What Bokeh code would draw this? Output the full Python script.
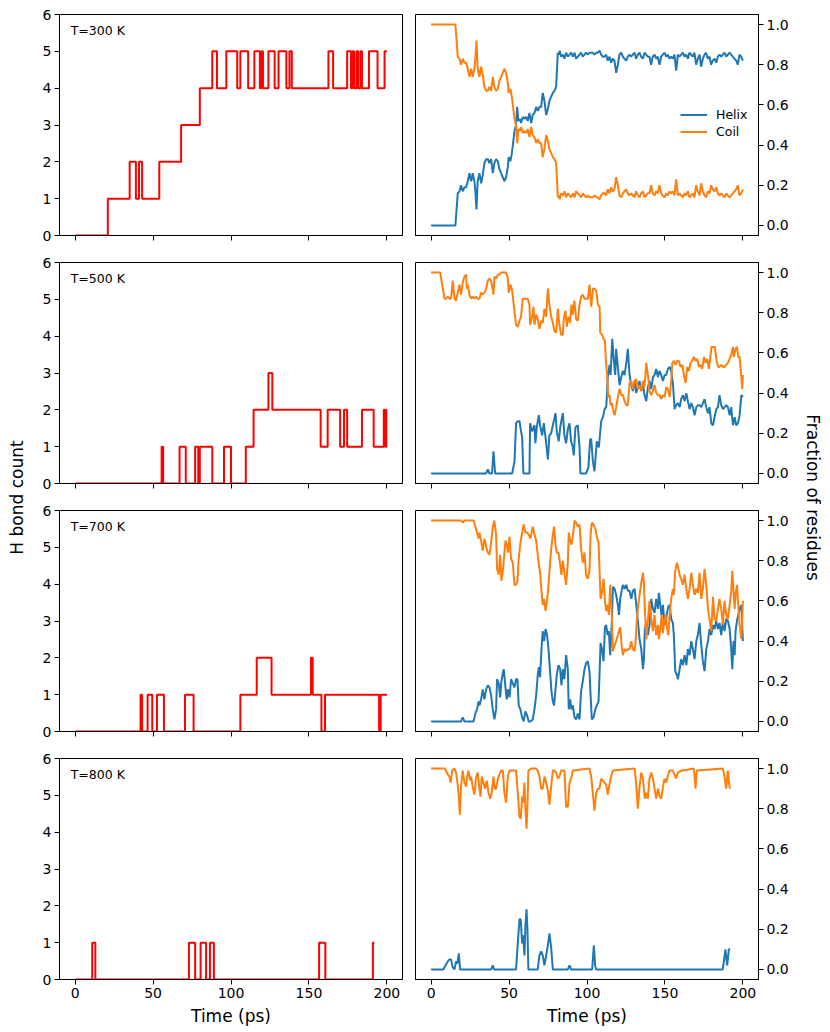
import math
from bokeh.plotting import figure
from bokeh.models import Range1d, FixedTicker, Label, PrintfTickFormatter, Legend
from bokeh.layouts import row, column
from bokeh.embed import file_html
from bokeh.resources import INLINE

FONT = "DejaVu Sans"
RED = "#ff0000"
BLUE = "#1f77b4"
ORANGE = "#ff7f0e"

temps = ["T=300 K", "T=500 K", "T=700 K", "T=800 K"]
x_ticks = [0, 50, 100, 150, 200]
hb_ticks = [0, 1, 2, 3, 4, 5, 6]
frac_ticks = [0.0, 0.2, 0.4, 0.6, 0.8, 1.0]

# ---------------- H bond counts (step data: time of change, new value) ----------------
hb300_t = [0, 21, 35, 39, 41, 43, 54, 68, 80,
           88, 91, 97, 104, 106, 111, 115, 118.5, 119.5, 120.5,
           124, 128, 130.5, 135.5, 137.5, 139, 162.5, 165.5, 174.5, 177,
           178, 179, 180.5, 181.5, 183, 184, 188.5, 194, 198.5, 200]
hb300_v = [0, 1, 2, 1, 2, 1, 2, 3, 4,
           5, 4, 5, 4, 5, 4, 5, 4, 5, 4,
           5, 4, 5, 4, 5, 4, 5, 4, 5, 4,
           5, 4, 5, 4, 5, 4, 5, 4, 5, 5]

hb500_t = [0, 55.5, 56.5, 67, 71, 77, 79, 80, 88, 95.5, 100, 109.5,
           114.5, 124, 126.5, 157.5, 162, 170, 172.5, 174.5, 184, 191.5,
           198, 198.8, 199.2, 199.6, 200]
hb500_v = [0, 1, 0, 1, 0, 1, 0, 1, 0, 1, 0, 1,
           2, 3, 2, 1, 2, 1, 2, 1, 2, 1,
           2, 1, 2, 1, 1]

hb700_t = [0, 42, 43, 46.5, 49.5, 52.5, 57, 70.5, 76, 106, 116.5, 126,
           151.3, 152.4, 158, 160.3, 195, 196, 200]
hb700_v = [0, 1, 0, 1, 0, 1, 0, 1, 0, 1, 2, 1,
           2, 1, 0, 1, 0, 1, 1]

hb800_t = [0, 11, 13, 73, 77, 80.5, 84, 86.5, 89, 156.5, 160.5, 191, 192]
hb800_v = [0, 1, 0, 1, 0, 1, 0, 1, 0, 1, 0, 1, 1]

# ---------------- Fractions of residues ----------------
t300 = [0, 15.6, 17.1, 18.2, 19.2, 20.3, 21.4, 22.5, 23.5, 24.6,
        25.7, 26.7, 27.8, 28.4, 29.1, 29.9, 31.0, 32.1, 33.1, 34.2,
        35.3, 36.4, 37.4, 38.5, 39.6, 40.6, 41.7, 42.8, 43.8, 44.9,
        46.0, 47.0, 48.1, 49.2, 49.8, 50.9, 51.8, 52.6, 53.5, 54.5,
        55.2, 56.0, 56.9, 57.7, 58.8, 59.9, 60.9, 62.0, 63.1, 64.2,
        65.2, 66.3, 67.4, 68.4, 69.5, 70.6, 71.6, 72.7, 73.8, 74.9,
        75.9, 77.0, 78.1, 79.1, 80.2, 81.3, 82.0, 82.5, 83.4, 84.5,
        85.5, 86.6, 87.7, 88.8, 89.8, 90.9, 92.0, 93.0, 94.1, 95.2,
        96.2, 97.3, 98.4, 99.4, 100.5, 101.6, 102.7, 103.7, 104.8, 105.9,
        106.9, 108.0, 109.1, 110.1, 111.2, 112.3, 113.3, 114.4, 115.5, 116.5,
        117.6, 118.7, 119.8, 120.8, 121.9, 123.0, 124.0, 125.1, 126.2, 127.2,
        128.3, 129.4, 130.5, 131.5, 132.6, 133.7, 134.7, 135.8, 136.9, 137.9,
        139.0, 140.1, 141.1, 142.2, 143.3, 144.4, 145.4, 146.5, 147.6, 148.6,
        149.7, 150.8, 151.8, 152.9, 154.0, 155.0, 156.1, 157.2, 158.3, 159.3,
        160.4, 161.5, 162.5, 163.6, 164.7, 165.7, 166.8, 167.9, 168.9, 170.0,
        171.1, 172.2, 173.2, 174.3, 175.4, 176.4, 177.5, 178.6, 179.6, 180.7,
        181.8, 182.9, 183.9, 185.0, 186.1, 187.1, 188.2, 189.3, 190.3, 191.4,
        192.5, 193.5, 194.6, 195.7, 196.7, 197.8, 198.9, 200.0]
helix300 = [0, 0, 0.16, 0.17, 0.20, 0.17, 0.19, 0.19, 0.22, 0.26,
            0.22, 0.26, 0.22, 0.17, 0.08, 0.22, 0.26, 0.21, 0.25, 0.31,
            0.33, 0.33, 0.31, 0.33, 0.26, 0.31, 0.33, 0.32, 0.28, 0.26,
            0.24, 0.22, 0.24, 0.29, 0.34, 0.32, 0.36, 0.41, 0.47, 0.50,
            0.59, 0.52, 0.53, 0.51, 0.54, 0.53, 0.54, 0.52, 0.56, 0.51,
            0.55, 0.56, 0.59, 0.57, 0.59, 0.59, 0.66, 0.62, 0.55, 0.58,
            0.62, 0.64, 0.66, 0.67, 0.69, 0.86, 0.85, 0.87, 0.84, 0.85,
            0.83, 0.86, 0.84, 0.85, 0.86, 0.84, 0.86, 0.83, 0.84, 0.85,
            0.86, 0.84, 0.85, 0.86, 0.85, 0.86, 0.86, 0.86, 0.85, 0.86,
            0.86, 0.87, 0.85, 0.84, 0.84, 0.85, 0.82, 0.84, 0.81, 0.83,
            0.82, 0.76, 0.80, 0.85, 0.86, 0.84, 0.83, 0.82, 0.84, 0.85,
            0.84, 0.85, 0.86, 0.83, 0.85, 0.86, 0.84, 0.83, 0.86, 0.85,
            0.84, 0.84, 0.80, 0.84, 0.85, 0.83, 0.84, 0.80, 0.84, 0.85,
            0.86, 0.84, 0.85, 0.83, 0.84, 0.83, 0.85, 0.77, 0.85, 0.84,
            0.85, 0.86, 0.84, 0.85, 0.83, 0.86, 0.85, 0.84, 0.86, 0.80,
            0.83, 0.85, 0.79, 0.83, 0.85, 0.86, 0.83, 0.84, 0.80, 0.82,
            0.83, 0.81, 0.84, 0.85, 0.84, 0.85, 0.86, 0.84, 0.85, 0.86,
            0.85, 0.84, 0.83, 0.82, 0.80, 0.85, 0.84, 0.82]
coil300 = [1.0, 1.0, 0.84, 0.83, 0.80, 0.83, 0.81, 0.81, 0.78, 0.74,
           0.78, 0.74, 0.78, 0.83, 0.92, 0.78, 0.74, 0.79, 0.75, 0.69,
           0.67, 0.67, 0.69, 0.67, 0.74, 0.69, 0.67, 0.68, 0.72, 0.74,
           0.76, 0.78, 0.76, 0.71, 0.66, 0.68, 0.64, 0.59, 0.53, 0.50,
           0.41, 0.48, 0.47, 0.49, 0.46, 0.47, 0.46, 0.48, 0.44, 0.49,
           0.45, 0.44, 0.41, 0.43, 0.41, 0.41, 0.34, 0.38, 0.45, 0.42,
           0.38, 0.36, 0.34, 0.33, 0.31, 0.14, 0.15, 0.13, 0.16, 0.15,
           0.17, 0.14, 0.16, 0.15, 0.14, 0.16, 0.14, 0.17, 0.16, 0.15,
           0.14, 0.16, 0.15, 0.14, 0.15, 0.14, 0.14, 0.14, 0.15, 0.14,
           0.14, 0.13, 0.15, 0.16, 0.16, 0.15, 0.18, 0.16, 0.19, 0.17,
           0.18, 0.24, 0.20, 0.15, 0.14, 0.16, 0.17, 0.18, 0.16, 0.15,
           0.16, 0.15, 0.14, 0.17, 0.15, 0.14, 0.16, 0.17, 0.14, 0.15,
           0.16, 0.16, 0.20, 0.16, 0.15, 0.17, 0.16, 0.20, 0.16, 0.15,
           0.14, 0.16, 0.15, 0.17, 0.16, 0.17, 0.15, 0.23, 0.15, 0.16,
           0.15, 0.14, 0.16, 0.15, 0.17, 0.14, 0.15, 0.16, 0.14, 0.20,
           0.17, 0.15, 0.21, 0.17, 0.15, 0.14, 0.17, 0.16, 0.20, 0.18,
           0.17, 0.19, 0.16, 0.15, 0.16, 0.15, 0.14, 0.16, 0.15, 0.14,
           0.15, 0.16, 0.17, 0.18, 0.20, 0.15, 0.16, 0.18]

helix500_t = [0, 35.3, 36.4, 37.4, 39.1, 40.0, 41.1, 52.0, 53.5, 54.5,
              55.6, 56.7, 57.7, 58.4, 59.2, 63.1, 63.5, 64.8, 66.3, 66.9,
              67.8, 69.1, 69.9, 71.2, 72.3, 73.4, 74.9, 75.9, 77.0, 78.1,
              79.8, 80.6, 81.9, 82.8, 84.5, 85.5, 86.6, 87.7, 88.8, 89.8,
              90.9, 91.5, 92.6, 94.1, 95.2, 95.8, 99.4, 100.9, 102.0, 102.7,
              103.8, 104.8, 106.3, 107.6, 109.1, 110.2, 111.3, 112.3, 112.8, 113.4,
              114.5, 115.1, 116.2, 117.0, 118.1, 118.7, 119.8, 120.9, 122.0, 123.0,
              124.1, 125.2, 126.2, 127.3, 128.4, 129.4, 130.5, 131.6, 132.6, 133.7,
              134.8, 135.9, 136.9, 138.0, 139.1, 140.1, 141.2, 142.3, 143.3, 144.4,
              145.5, 146.5, 147.6, 148.7, 149.8, 150.8, 151.9, 153.0, 154.0, 155.1,
              156.2, 157.2, 158.3, 159.4, 160.4, 161.5, 162.6, 163.7, 164.7, 165.8,
              166.9, 167.9, 169.0, 170.1, 171.2, 172.2, 173.3, 174.3, 175.4, 176.5,
              177.6, 178.6, 179.7, 180.8, 181.8, 182.9, 184.0, 185.0, 186.1, 187.2,
              188.3, 189.3, 190.4, 191.5, 192.5, 193.6, 194.7, 195.7, 196.8, 197.9,
              199.0, 200.0]
helix500 = [0, 0, 0.02, 0, 0, 0.11, 0, 0, 0.06, 0.25,
            0.26, 0.26, 0.21, 0.18, 0, 0, 0.25, 0.21, 0.24, 0.15,
            0.23, 0.29, 0.24, 0.19, 0.25, 0.18, 0.07, 0.19, 0.20, 0.24,
            0.30, 0.21, 0.16, 0.23, 0.30, 0.19, 0.15, 0.22, 0.25, 0.16,
            0.13, 0.09, 0.23, 0.24, 0.13, 0, 0, 0.03, 0.17, 0.17,
            0.06, 0.01, 0.16, 0.13, 0.26, 0.28, 0.32, 0.33, 0.39, 0.49,
            0.54, 0.49, 0.67, 0.58, 0.49, 0.62, 0.53, 0.44, 0.48, 0.51,
            0.49, 0.55, 0.62, 0.49, 0.44, 0.41, 0.46, 0.40, 0.43, 0.46,
            0.41, 0.44, 0.39, 0.36, 0.43, 0.46, 0.42, 0.48, 0.49, 0.52,
            0.48, 0.51, 0.49, 0.46, 0.49, 0.49, 0.52, 0.53, 0.51, 0.45,
            0.32, 0.34, 0.35, 0.33, 0.37, 0.39, 0.36, 0.40, 0.36, 0.32,
            0.35, 0.33, 0.29, 0.33, 0.34, 0.34, 0.33, 0.35, 0.37, 0.33,
            0.30, 0.33, 0.25, 0.24, 0.28, 0.32, 0.33, 0.39, 0.34, 0.32,
            0.33, 0.34, 0.33, 0.29, 0.33, 0.24, 0.28, 0.24, 0.25, 0.29,
            0.39, 0.38]
coil500_t = [0, 5.8, 7.1, 8.6, 9.6, 10.7, 11.8, 12.8, 13.9, 15.0,
             16.0, 17.1, 18.2, 19.2, 20.3, 21.4, 22.5, 22.9, 23.5, 24.6,
             25.7, 26.7, 27.8, 28.9, 29.9, 31.0, 32.1, 33.1, 34.2, 35.3,
             36.4, 37.4, 38.5, 39.6, 40.0, 40.6, 41.7, 42.8, 43.8, 44.9,
             48.1, 49.2, 49.8, 50.9, 52.0, 53.0, 53.9, 54.5, 55.6, 56.7,
             57.7, 58.8, 59.9, 62.0, 63.1, 63.5, 64.8, 65.7, 66.3, 67.4,
             68.4, 69.5, 70.6, 71.6, 72.7, 73.8, 74.9, 75.9, 77.0, 78.1,
             79.1, 80.2, 81.3, 82.3, 83.4, 84.5, 85.1, 86.2, 87.0, 88.1,
             89.2, 90.0, 90.9, 91.9, 93.0, 94.1, 95.2, 96.2, 97.3, 98.4,
             99.4, 100.6, 101.6, 102.7, 103.8, 104.8, 105.9, 107.0, 108.1, 108.5,
             109.8, 110.6, 111.5, 112.3, 113.0, 113.6, 114.5, 115.1, 116.0, 116.6,
             117.7, 118.7, 119.8, 120.9, 122.0, 123.0, 124.1, 125.2, 126.2, 127.3,
             128.4, 129.4, 130.5, 131.6, 132.6, 133.7, 134.8, 135.9, 136.9, 138.0,
             139.1, 140.1, 141.2, 142.3, 143.3, 144.4, 145.5, 146.5, 147.6, 148.7,
             149.8, 150.8, 151.9, 153.0, 154.0, 154.7, 155.7, 156.8, 157.9, 159.0,
             160.0, 161.1, 162.2, 163.2, 164.3, 165.4, 166.4, 167.5, 168.6, 169.6,
             170.7, 171.8, 172.9, 173.9, 175.0, 176.1, 177.1, 178.2, 179.1, 179.9,
             181.0, 182.0, 183.1, 184.2, 185.0, 186.1, 187.2, 188.2, 189.3, 190.4,
             191.5, 192.5, 193.6, 194.2, 195.3, 196.2, 197.0, 197.9, 199.0, 199.6,
             200.0]
coil500 = [1.0, 1.0, 0.94, 0.87, 0.87, 0.88, 0.87, 0.87, 0.96, 0.87,
           0.86, 0.90, 0.94, 0.89, 0.95, 0.98, 0.99, 0.92, 0.94, 0.89,
           0.87, 0.88, 0.87, 0.88, 0.87, 0.87, 0.90, 0.89, 0.90, 0.92,
           0.96, 0.97, 0.96, 0.91, 0.89, 0.98, 0.97, 0.99, 0.99, 1.0,
           1.0, 0.97, 0.90, 0.94, 0.91, 0.84, 0.78, 0.74, 0.73, 0.76,
           0.78, 0.87, 0.87, 0.87, 0.84, 0.74, 0.78, 0.83, 0.74, 0.79,
           0.77, 0.72, 0.76, 0.75, 0.82, 0.78, 0.92, 0.84, 0.78, 0.75,
           0.71, 0.70, 0.82, 0.74, 0.69, 0.69, 0.77, 0.81, 0.73, 0.78,
           0.75, 0.84, 0.79, 0.86, 0.77, 0.76, 0.84, 0.88, 0.89, 0.87,
           0.87, 0.87, 0.94, 0.83, 0.92, 0.92, 0.91, 0.84, 0.83, 0.70,
           0.69, 0.67, 0.66, 0.54, 0.48, 0.38, 0.39, 0.34, 0.35, 0.32,
           0.29, 0.33, 0.38, 0.42, 0.39, 0.39, 0.36, 0.34, 0.34, 0.45,
           0.46, 0.42, 0.46, 0.47, 0.42, 0.44, 0.41, 0.46, 0.43, 0.55,
           0.49, 0.41, 0.39, 0.41, 0.44, 0.40, 0.39, 0.39, 0.37, 0.39,
           0.38, 0.43, 0.42, 0.38, 0.46, 0.55, 0.56, 0.54, 0.56, 0.56,
           0.53, 0.54, 0.49, 0.45, 0.53, 0.51, 0.55, 0.56, 0.58, 0.56,
           0.57, 0.53, 0.54, 0.52, 0.58, 0.55, 0.57, 0.52, 0.58, 0.63,
           0.63, 0.63, 0.56, 0.53, 0.53, 0.54, 0.53, 0.53, 0.54, 0.55,
           0.57, 0.59, 0.63, 0.58, 0.62, 0.63, 0.58, 0.58, 0.48, 0.42,
           0.49]

t700 = [0, 19.2, 20.3, 21.4, 27.2, 28.4, 29.5, 30.4, 31.0, 32.1,
        33.1, 34.2, 35.3, 36.4, 37.4, 38.5, 39.6, 40.6, 41.7, 42.3,
        43.4, 44.3, 45.1, 46.0, 46.6, 47.7, 48.5, 49.4, 50.3, 51.3,
        52.4, 53.5, 54.5, 55.4, 56.2, 57.3, 58.4, 59.4, 60.5, 61.6,
        62.6, 63.7, 65.2, 66.3, 67.4, 68.4, 69.1, 69.9, 70.8, 71.6,
        72.5, 73.4, 74.4, 75.3, 76.3, 77.2, 78.1, 78.9, 79.8, 80.6,
        81.7, 82.8, 83.6, 84.5, 85.5, 86.6, 87.7, 88.3, 89.2, 90.0,
        90.9, 92.0, 93.0, 94.1, 95.2, 96.2, 97.3, 98.4, 99.4, 100.5,
        101.6, 102.3, 103.1, 104.2, 105.3, 106.3, 107.4, 108.1, 108.7, 109.6,
        110.6, 111.5, 112.3, 113.2, 114.0, 114.9, 116.0, 116.6, 117.7, 118.7,
        119.8, 120.5, 121.3, 122.2, 123.0, 124.1, 125.2, 126.2, 127.3, 128.4,
        129.4, 130.5, 131.2, 132.0, 132.9, 133.7, 134.8, 135.9, 136.5, 137.1,
        138.0, 139.1, 140.1, 141.2, 142.3, 143.3, 144.4, 145.5, 146.1, 147.0,
        147.8, 148.7, 149.5, 150.4, 151.3, 152.1, 153.0, 154.0, 155.1, 155.7,
        156.6, 157.7, 158.3, 159.4, 160.4, 161.5, 162.6, 163.7, 164.7, 165.8,
        166.9, 167.9, 169.0, 170.1, 171.1, 172.2, 173.3, 174.3, 175.4, 176.5,
        177.6, 178.6, 179.7, 180.8, 181.8, 182.9, 184.0, 185.0, 186.1, 187.2,
        188.2, 189.3, 190.4, 191.5, 192.5, 193.2, 194.0, 194.7, 195.3, 196.2,
        197.0, 197.9, 199.0, 200.0]
helix700 = [0, 0, 0.02, 0, 0, 0.04, 0.06, 0.10, 0.08, 0.11,
            0.16, 0.11, 0.16, 0.18, 0.17, 0.13, 0.06, 0.01, 0.06, 0.21,
            0.19, 0.12, 0.20, 0.24, 0.26, 0.17, 0.11, 0.16, 0.12, 0.21,
            0.19, 0.17, 0.21, 0.21, 0.08, 0.06, 0.02, 0, 0.05, 0.03,
            0, 0, 0.01, 0.06, 0.13, 0.23, 0.27, 0.22, 0.36, 0.45,
            0.40, 0.46, 0.43, 0.36, 0.25, 0.15, 0.10, 0.08, 0.16, 0.23,
            0.28, 0.26, 0.18, 0.26, 0.21, 0.33, 0.26, 0.06, 0.11, 0.06,
            0.08, 0.02, 0.01, 0.04, 0.01, 0.15, 0.20, 0.26, 0.29, 0.30,
            0.25, 0.13, 0.01, 0.02, 0.06, 0.08, 0.10, 0.25, 0.39, 0.36,
            0.30, 0.47, 0.48, 0.43, 0.45, 0.33, 0.51, 0.67, 0.66, 0.63,
            0.58, 0.53, 0.61, 0.65, 0.68, 0.66, 0.68, 0.65, 0.65, 0.61,
            0.65, 0.66, 0.61, 0.55, 0.48, 0.41, 0.36, 0.26, 0.31, 0.46,
            0.49, 0.43, 0.48, 0.61, 0.56, 0.54, 0.61, 0.56, 0.64, 0.58,
            0.53, 0.58, 0.51, 0.48, 0.54, 0.57, 0.58, 0.51, 0.49, 0.43,
            0.25, 0.23, 0.21, 0.26, 0.31, 0.28, 0.33, 0.28, 0.36, 0.33,
            0.40, 0.36, 0.31, 0.40, 0.43, 0.49, 0.38, 0.30, 0.25, 0.36,
            0.40, 0.46, 0.43, 0.48, 0.46, 0.50, 0.46, 0.49, 0.43, 0.50,
            0.45, 0.51, 0.50, 0.46, 0.36, 0.26, 0.40, 0.33, 0.45, 0.50,
            0.53, 0.56, 0.58, 0.40]
coil700 = [1.0, 1.0, 0.99, 1.0, 1.0, 0.97, 0.94, 0.91, 0.94, 0.90,
           0.85, 0.91, 0.87, 0.84, 0.83, 0.89, 0.97, 1.0, 0.93, 0.76,
           0.73, 0.83, 0.70, 0.75, 0.80, 0.90, 0.88, 0.84, 0.92, 0.81,
           0.79, 0.68, 0.68, 0.70, 0.81, 0.89, 0.94, 0.98, 0.94, 0.94,
           0.93, 0.91, 0.97, 0.93, 0.90, 0.83, 0.78, 0.74, 0.65, 0.58,
           0.61, 0.55, 0.60, 0.68, 0.79, 0.87, 0.93, 0.97, 0.88, 0.84,
           0.84, 0.78, 0.73, 0.80, 0.74, 0.68, 0.79, 0.94, 0.90, 0.88,
           0.92, 1.0, 0.99, 0.97, 0.98, 0.86, 0.79, 0.84, 0.73, 0.71,
           0.75, 0.93, 0.99, 0.98, 0.96, 0.92, 0.89, 0.74, 0.61, 0.64,
           0.71, 0.60, 0.55, 0.58, 0.53, 0.68, 0.51, 0.35, 0.38, 0.40,
           0.43, 0.45, 0.47, 0.38, 0.33, 0.36, 0.35, 0.36, 0.36, 0.40,
           0.36, 0.35, 0.40, 0.51, 0.58, 0.63, 0.69, 0.74, 0.69, 0.56,
           0.41, 0.51, 0.60, 0.51, 0.45, 0.53, 0.43, 0.48, 0.41, 0.46,
           0.53, 0.44, 0.50, 0.53, 0.47, 0.43, 0.53, 0.61, 0.66, 0.63,
           0.75, 0.79, 0.77, 0.73, 0.71, 0.68, 0.73, 0.66, 0.61, 0.66,
           0.74, 0.68, 0.63, 0.66, 0.64, 0.74, 0.61, 0.66, 0.76, 0.68,
           0.56, 0.51, 0.45, 0.62, 0.51, 0.50, 0.56, 0.61, 0.56, 0.48,
           0.60, 0.53, 0.51, 0.58, 0.65, 0.75, 0.65, 0.56, 0.63, 0.68,
           0.58, 0.48, 0.41, 0.60]

helix800_t = [0, 7.9, 9.2, 10.7, 11.8, 12.8, 13.9, 15.0, 16.0, 16.9,
              17.8, 18.6, 38.5, 39.6, 40.4, 54.5, 55.6, 56.7, 57.5, 58.4,
              59.0, 59.9, 60.5, 61.2, 61.8, 62.4, 68.4, 69.5, 70.6, 71.6,
              72.7, 73.8, 74.9, 75.9, 77.0, 78.1, 87.7, 88.8, 89.8, 103.3,
              104.4, 105.2, 105.9, 187.1, 188.8, 189.9, 191.0, 191.8]
helix800 = [0, 0, 0.02, 0.04, 0.05, 0.05, 0.01, 0, 0.04, 0.03,
            0.08, 0, 0, 0.02, 0, 0, 0.13, 0.25, 0.25, 0.13,
            0.17, 0.07, 0.22, 0.30, 0.20, 0, 0, 0.07, 0.09, 0.07,
            0.02, 0.07, 0.12, 0.18, 0.11, 0, 0, 0.02, 0, 0,
            0.12, 0.02, 0, 0, 0.10, 0.02, 0.10, 0.10]
coil800_t = [0, 8.6, 9.6, 10.7, 11.8, 12.6, 13.5, 15.0, 16.0, 16.9,
             17.8, 18.4, 19.2, 20.3, 21.4, 22.5, 23.1, 24.0, 25.0, 25.7,
             26.7, 27.8, 28.9, 29.9, 31.0, 31.7, 32.5, 33.6, 34.6, 35.7,
             36.8, 37.9, 38.9, 40.0, 40.8, 41.7, 42.8, 43.8, 44.9, 46.0,
             47.0, 48.1, 49.2, 50.3, 54.5, 55.6, 56.7, 57.5, 58.4, 59.0,
             59.9, 60.5, 61.2, 61.8, 62.4, 64.2, 67.4, 68.4, 69.5, 70.6,
             71.6, 72.7, 73.8, 74.9, 75.9, 77.0, 78.1, 79.1, 80.2, 81.3,
             82.3, 83.4, 85.5, 86.6, 87.7, 88.8, 89.8, 90.9, 101.6, 102.7,
             103.7, 104.8, 105.9, 107.0, 108.0, 109.1, 110.2, 111.2, 112.3, 113.3,
             114.4, 115.5, 116.6, 130.5, 131.5, 132.6, 133.7, 134.8, 135.9, 137.1,
             138.0, 139.0, 140.1, 141.2, 142.3, 143.3, 144.4, 145.5, 146.6, 147.6,
             148.6, 149.7, 150.8, 151.8, 152.9, 155.0, 156.1, 157.2, 158.3, 160.4,
             161.5, 168.5, 168.9, 169.6, 170.4, 187.1, 188.2, 189.3, 190.3, 191.4,
             191.8]
coil800 = [1.0, 1.0, 0.99, 0.97, 0.96, 0.93, 0.99, 1.0, 0.98, 0.93,
           0.86, 0.77, 0.91, 0.99, 0.93, 0.91, 0.96, 0.99, 0.94, 0.96,
           0.91, 0.87, 0.96, 0.98, 0.90, 0.86, 0.96, 0.93, 0.90, 0.94,
           0.88, 0.85, 0.88, 0.96, 0.90, 0.90, 0.95, 0.97, 0.99, 0.99,
           0.88, 0.83, 0.96, 0.99, 0.99, 0.88, 0.76, 0.75, 0.86, 0.83,
           0.93, 0.80, 0.70, 0.81, 0.99, 1.0, 1.0, 0.99, 0.96, 0.90,
           0.90, 0.96, 0.93, 0.89, 0.82, 0.91, 0.99, 0.99, 0.98, 0.95,
           0.96, 0.99, 0.99, 0.81, 0.81, 0.93, 0.95, 0.99, 1.0, 0.96,
           0.88, 0.79, 0.88, 0.90, 0.90, 0.95, 0.94, 0.93, 0.92, 0.87,
           0.92, 0.96, 0.99, 1.0, 0.93, 0.80, 0.91, 0.98, 0.95, 0.85,
           0.88, 0.85, 0.95, 0.98, 0.95, 0.90, 0.85, 0.90, 0.86, 0.85,
           0.90, 0.95, 0.93, 0.96, 0.99, 0.99, 0.97, 0.95, 0.98, 0.99,
           0.99, 1.0, 0.97, 0.90, 0.99, 1.0, 0.96, 0.90, 0.99, 0.91,
           0.90]

hbond_series = [(hb300_t, hb300_v), (hb500_t, hb500_v), (hb700_t, hb700_v), (hb800_t, hb800_v)]
frac_series = [
    (t300, helix300, t300, coil300),
    (helix500_t, helix500, coil500_t, coil500),
    (t700, helix700, t700, coil700),
    (helix800_t, helix800, coil800_t, coil800),
]

# ---------------- layout constants ----------------
FRAME_H = 221
ROW_TOPS = [14, 9, 9, 9]
ROW_BOTTOMS = [18, 18, 18, 50]
ROW_HS = [t + FRAME_H + b for t, b in zip(ROW_TOPS, ROW_BOTTOMS)]
TOTAL_H = sum(ROW_HS)
LAB_L_W = 32
LEFT_W = 376
RIGHT_W = 393
LAB_R_W = 20
YLABEL_CENTER = 497   # from top of the page


def style(p, bottom):
    p.grid.visible = False
    p.outline_line_color = "black"
    p.outline_line_width = 1
    p.background_fill_color = "white"
    p.border_fill_color = "white"
    for ax in list(p.xaxis) + list(p.yaxis):
        ax.axis_line_color = "black"
        ax.axis_line_width = 1
        ax.major_tick_line_color = "black"
        ax.major_tick_line_width = 1
        ax.major_tick_out = 5
        ax.major_tick_in = 0
        ax.minor_tick_line_color = None
        ax.major_label_text_font = FONT
        ax.major_label_text_font_size = "14px"
        ax.major_label_text_color = "black"
        ax.major_label_standoff = 3
    p.xaxis.ticker = FixedTicker(ticks=x_ticks)
    if bottom:
        p.xaxis.axis_label = "Time (ps)"
        p.xaxis.axis_label_text_font = FONT
        p.xaxis.axis_label_text_font_size = "17px"
        p.xaxis.axis_label_text_font_style = "normal"
        p.xaxis.axis_label_text_color = "black"
        p.xaxis.major_label_standoff = 3
        p.xaxis.axis_label_standoff = 5
    else:
        p.xaxis.major_label_overrides = {t: "" for t in x_ticks}
        p.xaxis.major_label_text_font_size = "8px"
        p.xaxis.major_label_standoff = 0


rows = []
for i in range(4):
    bottom = (i == 3)
    h = ROW_HS[i]

    # left panel: H bond count
    pl = figure(width=LEFT_W, height=h, x_range=Range1d(-10, 210), y_range=Range1d(0, 6),
                output_backend="svg", toolbar_location=None,
                min_border_left=27, min_border_right=6,
                min_border_top=ROW_TOPS[i], min_border_bottom=ROW_BOTTOMS[i])
    ht, hv = hbond_series[i]
    pl.step(x=ht, y=hv, mode="after", line_color=RED, line_width=2)
    style(pl, bottom)
    pl.yaxis.ticker = FixedTicker(ticks=hb_ticks)
    pl.add_layout(Label(x=-2.8, y=5.56, text=temps[i], text_font=FONT, text_font_size="12.5px",
                        text_baseline="middle", text_align="left", text_color="black"))

    # right panel: fractions
    pr = figure(width=RIGHT_W, height=h, x_range=Range1d(-10, 210), y_range=Range1d(-0.05, 1.05),
                y_axis_location="right", output_backend="svg", toolbar_location=None,
                min_border_left=7, min_border_right=RIGHT_W - 7 - 343,
                min_border_top=ROW_TOPS[i], min_border_bottom=ROW_BOTTOMS[i])
    th, hv2, tc, cv = frac_series[i]
    r_h = pr.line(x=th, y=hv2, line_color=BLUE, line_width=2)
    r_c = pr.line(x=tc, y=cv, line_color=ORANGE, line_width=2)
    style(pr, bottom)
    pr.yaxis.ticker = FixedTicker(ticks=frac_ticks)
    pr.yaxis.formatter = PrintfTickFormatter(format="%.1f")
    if i == 0:
        leg = Legend(items=[("Helix", [r_h]), ("Coil", [r_c])], location=(265, 95),
                     border_line_color=None, background_fill_alpha=0, padding=0, margin=0,
                     spacing=0, glyph_width=27, glyph_height=17, label_height=17,
                     label_standoff=9, label_text_font=FONT, label_text_font_size="12.5px",
                     label_text_color="black")
        pr.add_layout(leg)
    rows.append(row(pl, pr))


def label_fig(width, text, x, angle):
    f = figure(width=width, height=TOTAL_H, x_range=Range1d(0, width), y_range=Range1d(0, TOTAL_H),
               x_axis_type=None, y_axis_type=None, output_backend="svg", toolbar_location=None,
               min_border=0, outline_line_color=None)
    f.grid.visible = False
    f.add_layout(Label(x=x, y=TOTAL_H - YLABEL_CENTER, text=text, angle=angle, text_align="center",
                       text_baseline="middle", text_font=FONT, text_font_size="17px",
                       text_color="black"))
    return f


lab_l = label_fig(LAB_L_W, "H bond count", 16, math.pi / 2)
lab_r = label_fig(LAB_R_W, "Fraction of residues", 11, -math.pi / 2)

layout = row(lab_l, column(*rows), lab_r)

with open("out.html", "w") as fh:
    fh.write(file_html(layout, INLINE))
